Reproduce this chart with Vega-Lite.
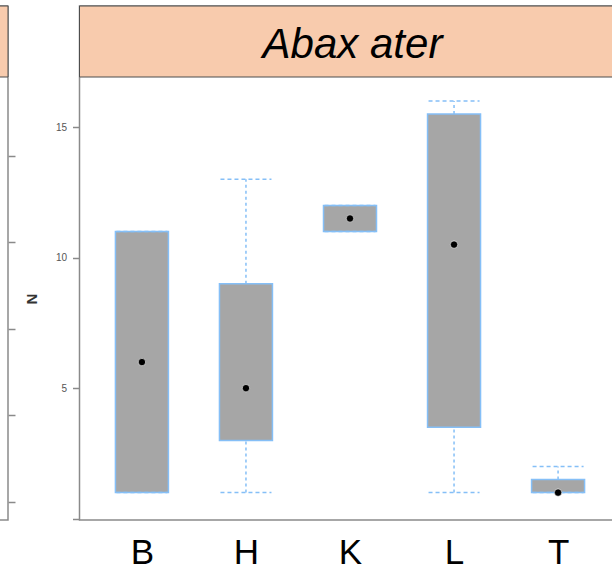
{
  "$schema": "https://vega.github.io/schema/vega-lite/v6.json",
  "padding": {"left": -94, "top": 4, "right": 0, "bottom": 0},
  "background": "white",
  "config": {"view": {"stroke": "#8a8a8a", "strokeWidth": 1.5}, "font": "Liberation Sans"},
  "bounds": "flush",
  "spacing": 71.5,
  "resolve": {"scale": {"y": "independent", "x": "independent"}},
  "hconcat": [
    {
      "width": 100,
      "height": 514,
      "data": {"values": [{"species": "left"}]},
      "mark": {"type": "rect", "fill": "#f8cbad", "stroke": "#4d4d4d", "strokeWidth": 1},
      "encoding": {
        "y": {
          "datum": 16.92,
          "type": "quantitative",
          "scale": {"domain": [-0.05, 19.64], "nice": false, "zero": false},
          "axis": {"orient": "right", "values": [0.65, 3.98, 7.27, 10.59, 13.91], "labels": false, "domain": false, "grid": false, "title": null, "tickSize": 7, "tickColor": "#8a8a8a", "tickWidth": 1.5}
        },
        "y2": {"datum": 19.64}
      }
    },
    {
      "width": 541,
      "height": 514,
      "data": {"values": [
        {"site": "B", "min": 1, "q1": 1, "median": 6, "q3": 11, "max": 11},
        {"site": "H", "min": 1, "q1": 3, "median": 5, "q3": 9, "max": 13},
        {"site": "K", "min": 11, "q1": 11, "median": 11.5, "q3": 12, "max": 12},
        {"site": "L", "min": 1, "q1": 3.5, "median": 10.5, "q3": 15.5, "max": 16},
        {"site": "T", "min": 1, "q1": 1, "median": 1, "q3": 1.5, "max": 2}
      ]},
      "layer": [
        {
          "data": {"values": [{"species": "Abax ater"}]},
          "mark": {"type": "rect", "fill": "#f8cbad", "stroke": "#4d4d4d", "strokeWidth": 1},
          "encoding": {
            "y": {
              "datum": 16.92,
              "type": "quantitative",
              "scale": {"domain": [-0.05, 19.64], "nice": false, "zero": false},
              "axis": {
                "values": [0, 5, 10, 15],
                "labelExpr": "datum.value == 0 ? '' : datum.label",
                "labelFontSize": 10,
                "labelColor": "#555555",
                "labelPadding": 6,
                "tickColor": "#8a8a8a",
                "tickSize": 7,
                "tickWidth": 1.5,
                "domain": false,
                "grid": false,
                "title": "N",
                "titleFontSize": 15,
                "titleFontWeight": "bold",
                "titleColor": "#333333",
                "titleAngle": 270,
                "titleX": -48,
                "titleY": 292.5,
                "titleAlign": "center",
                "titleBaseline": "middle"
              }
            },
            "y2": {"datum": 19.64}
          }
        },
        {
          "data": {"values": [{"species": "Abax ater"}]},
          "mark": {"type": "text", "fontSize": 42, "fontStyle": "italic", "font": "Liberation Sans", "color": "black", "align": "center", "baseline": "alphabetic", "dx": 2.5},
          "encoding": {
            "y": {"datum": 17.64, "type": "quantitative"},
            "text": {"field": "species"}
          }
        },
        {
          "mark": {"type": "rule", "color": "#85bff7", "strokeWidth": 1.5, "strokeDash": [3, 3]},
          "encoding": {
            "x": {
              "field": "site",
              "type": "nominal",
              "scale": {"type": "point", "padding": 0.6},
              "axis": {"orient": "bottom", "title": null, "labelAngle": 0, "labelFontSize": 35, "labelColor": "black", "labelFont": "Liberation Sans", "ticks": false, "tickSize": 0, "domain": false, "labelPadding": 15, "grid": false}
            },
            "y": {"field": "q3", "type": "quantitative"},
            "y2": {"field": "max"}
          }
        },
        {
          "mark": {"type": "rule", "color": "#85bff7", "strokeWidth": 1.5, "strokeDash": [3, 3]},
          "encoding": {
            "x": {"field": "site", "type": "nominal"},
            "y": {"field": "min", "type": "quantitative"},
            "y2": {"field": "q1"}
          }
        },
        {
          "mark": {"type": "bar", "width": 53, "fill": "#a6a6a6", "stroke": "#85bff7", "strokeWidth": 1.5},
          "encoding": {
            "x": {"field": "site", "type": "nominal"},
            "y": {"field": "q1", "type": "quantitative"},
            "y2": {"field": "q3"}
          }
        },
        {
          "mark": {"type": "rule", "color": "#85bff7", "strokeWidth": 1.5, "strokeDash": [4, 3], "xOffset": -25.5, "x2Offset": 25.5},
          "encoding": {
            "x": {"field": "site", "type": "nominal"},
            "x2": {"field": "site"},
            "y": {"field": "max", "type": "quantitative"}
          }
        },
        {
          "mark": {"type": "rule", "color": "#85bff7", "strokeWidth": 1.5, "strokeDash": [4, 3], "xOffset": -25.5, "x2Offset": 25.5},
          "encoding": {
            "x": {"field": "site", "type": "nominal"},
            "x2": {"field": "site"},
            "y": {"field": "min", "type": "quantitative"}
          }
        },
        {
          "mark": {"type": "circle", "color": "black", "size": 55, "opacity": 1, "stroke": "white", "strokeWidth": 0.6},
          "encoding": {
            "x": {"field": "site", "type": "nominal"},
            "y": {"field": "median", "type": "quantitative"}
          }
        }
      ]
    }
  ]
}
